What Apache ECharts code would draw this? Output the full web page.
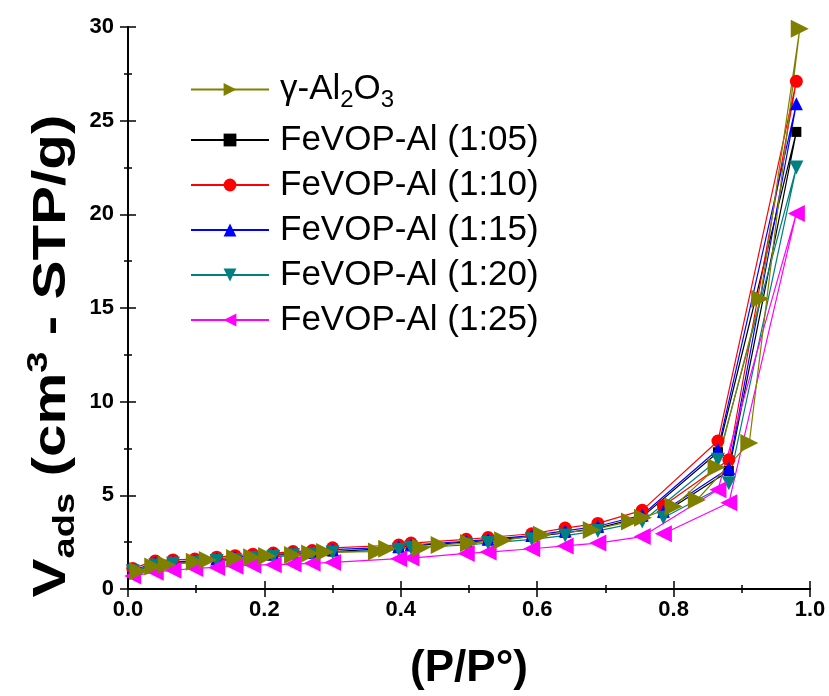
<!DOCTYPE html>
<html>
<head>
<meta charset="utf-8">
<script src="https://cdn.jsdelivr.net/npm/echarts@6/dist/echarts.min.js"></script>
<style>
html,body{margin:0;padding:0;background:#fff;}
#chart{width:829px;height:696px;}
</style>
</head>
<body>
<div id="chart"></div>
<script>
// Relative pressure points (shared by FeVOP-Al samples, in measurement order)
var pFeVOP = [0.007, 0.04, 0.066, 0.098, 0.13, 0.157, 0.183, 0.213, 0.242, 0.27, 0.30, 0.397, 0.415, 0.496, 0.528, 0.592, 0.641, 0.689, 0.754, 0.865, 0.98, 0.881, 0.785];
var v105 = [0.95, 1.3, 1.4, 1.45, 1.55, 1.62, 1.7, 1.8, 1.85, 1.9, 2.0, 2.2, 2.3, 2.5, 2.6, 2.8, 3.0, 3.25, 3.85, 7.3, 24.4, 6.3, 4.05];
var v110 = [1.1, 1.5, 1.55, 1.6, 1.7, 1.78, 1.85, 1.92, 2.0, 2.05, 2.2, 2.35, 2.45, 2.65, 2.75, 2.95, 3.25, 3.5, 4.2, 7.9, 27.1, 6.9, 4.45];
var v115 = [1.0, 1.4, 1.45, 1.5, 1.6, 1.7, 1.75, 1.85, 1.9, 1.95, 2.1, 2.25, 2.35, 2.55, 2.65, 2.85, 3.1, 3.35, 3.95, 7.45, 25.9, 6.45, 4.15];
var v120 = [0.95, 1.25, 1.35, 1.4, 1.5, 1.55, 1.65, 1.72, 1.8, 1.85, 1.95, 2.1, 2.2, 2.35, 2.45, 2.65, 2.85, 3.1, 3.6, 6.9, 22.5, 5.65, 3.8];
var v125 = [0.7, 0.9, 1.0, 1.1, 1.15, 1.22, 1.27, 1.3, 1.33, 1.37, 1.42, 1.62, 1.65, 1.9, 1.97, 2.15, 2.3, 2.45, 2.8, 5.3, 20.05, 4.6, 2.95];
// gamma-Al2O3
var pAl = [0.015, 0.037, 0.057, 0.098, 0.117, 0.157, 0.182, 0.204, 0.242, 0.267, 0.289, 0.365, 0.38, 0.43, 0.457, 0.50, 0.55, 0.607, 0.68, 0.736, 0.755, 0.80, 0.863, 0.927, 0.985, 0.911, 0.834];
var vAl = [0.95, 1.2, 1.3, 1.45, 1.55, 1.65, 1.7, 1.76, 1.82, 1.9, 1.97, 2.0, 2.15, 2.2, 2.35, 2.45, 2.6, 2.9, 3.15, 3.6, 3.8, 4.4, 6.5, 15.5, 29.9, 7.8, 4.75];

var names = ['γ-Al2O3', 'FeVOP-Al (1:05)', 'FeVOP-Al (1:10)', 'FeVOP-Al (1:15)', 'FeVOP-Al (1:20)', 'FeVOP-Al (1:25)'];
var xTicks = ['0.0', '0.2', '0.4', '0.6', '0.8', '1.0'];

function pairs(xs, ys) { return xs.map(function (x, i) { return [x, ys[i]]; }); }

var FONT = "'Liberation Sans', Arial, sans-serif";

function mk(name, xs, ys, color, symbol, size, rot, lw) {
  return {
    name: name, type: 'line', data: pairs(xs, ys),
    symbol: symbol, symbolSize: size, symbolRotate: rot,
    itemStyle: { color: color },
    lineStyle: { color: color, width: lw },
    animation: false
  };
}

var chart = echarts.init(document.getElementById('chart'));
var axisCommon = {
  axisLine: { lineStyle: { color: '#000', width: 2 } },
  axisTick: { inside: true, length: 8, lineStyle: { color: '#000', width: 1.5 } },
  minorTick: { show: true, splitNumber: 2, length: 4, lineStyle: { color: '#000', width: 1.5 } },
  splitLine: { show: false }
};
chart.setOption({
  backgroundColor: '#fff',
  grid: { left: 128, right: 19, top: 27, bottom: 107 },
  legend: {
    orient: 'vertical', left: 185, top: 67,
    itemWidth: 78, itemHeight: 16, itemGap: 10,
    data: names,
    textStyle: {
      fontFamily: FONT, fontSize: 35, lineHeight: 34, color: '#000', padding: [0, 0, 0, 6],
      rich: {
        n: { fontFamily: FONT, fontSize: 35, color: '#000' },
        s: { fontFamily: FONT, fontSize: 24, color: '#000', padding: [28, 0, 6, 0] }
      }
    },
    formatter: function (n) {
      if (n === names[0]) return '{n|γ-Al}{s|2}{n|O}{s|3}';
      return n;
    }
  },
  graphic: [{
    type: 'text', x: 52, y: 356, rotation: Math.PI / 2, scaleX: 1.27, scaleY: 1,
    style: {
      text: '{b|V}{sub|ads}{b| (cm}{sup|3}{b| - STP/g)}',
      align: 'center', verticalAlign: 'middle',
      fontFamily: FONT, fontSize: 46, fontWeight: 'bold', fill: '#000',
      rich: {
        b: { fontFamily: FONT, fontSize: 46, fontWeight: 'bold', fill: '#000' },
        sub: { fontFamily: FONT, fontSize: 30, fontWeight: 'bold', fill: '#000', padding: [28, 0, 0, 0] },
        sup: { fontFamily: FONT, fontSize: 30, fontWeight: 'bold', fill: '#000', padding: [0, 0, 26, 0] }
      }
    }
  }],
  xAxis: [
    Object.assign({
      type: 'value', min: 0, max: 1, interval: 0.2, position: 'bottom',
      axisLabel: {
        fontFamily: FONT, fontSize: 22, fontWeight: 'bold', color: '#000', margin: 10,
        formatter: function (v) { return xTicks[Math.round(v / 0.2)]; }
      },
      name: '(P/P°)', nameLocation: 'middle', nameGap: 58,
      nameTextStyle: { fontFamily: FONT, fontSize: 44, fontWeight: 'bold', color: '#000' }
    }, axisCommon),
    Object.assign({
      type: 'value', min: 0, max: 1, interval: 0.2, position: 'top',
      axisLabel: { show: false }
    }, axisCommon)
  ],
  yAxis: [
    Object.assign({
      type: 'value', min: 0, max: 30, interval: 5, position: 'left',
      axisLabel: { fontFamily: FONT, fontSize: 22, fontWeight: 'bold', color: '#000', margin: 14 }
    }, axisCommon),
    Object.assign({
      type: 'value', min: 0, max: 30, interval: 5, position: 'right',
      axisLabel: { show: false }
    }, axisCommon)
  ],
  series: [
    mk(names[1], pFeVOP, v105, '#000000', 'rect', 10, 0, 1.2),
    mk(names[2], pFeVOP, v110, '#FF0000', 'circle', 13, 0, 1.2),
    mk(names[3], pFeVOP, v115, '#0000FF', 'triangle', 13, 0, 1.2),
    mk(names[4], pFeVOP, v120, '#008080', 'triangle', 14, 180, 1.2),
    mk(names[5], pFeVOP, v125, '#FF00FF', 'triangle', 17, 90, 1.2),
    mk(names[0], pAl, vAl, '#808000', 'triangle', 18, -90, 1.2)
  ]
});
</script>
</body>
</html>
